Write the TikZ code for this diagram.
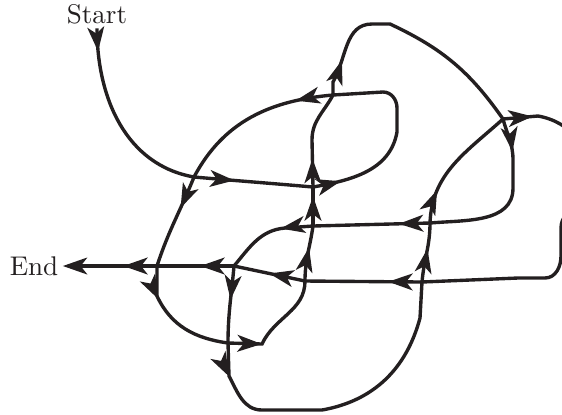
\documentclass[tikz,border=0pt]{standalone}
\usepackage{tikz}
\usetikzlibrary{arrows.meta,decorations.markings}
\definecolor{ink}{HTML}{231F20}
\tikzset{
  >={Stealth[length=9pt,width=6.2pt,inset=2.4pt]},
  % --- nodes
  lbl/.style  = {text=ink, inner sep=1.5pt},
  % --- edges
  wire/.style = {draw=ink, line width=1.25pt},
  flow/.style = {wire, postaction={decorate, decoration={markings,
                 mark=at position #1 with {\arrow{>}}}}},
  flow/.default = 12.5pt,
}
\begin{document}
\begin{tikzpicture}[x=0.37pt, y=-0.37pt]
  \useasboundingbox (0,0) rectangle (562,414);
  \clip (0,0) rectangle (562,414);
  \node[lbl] (start) at (97,14) {Start};
  \node[lbl] (finish) at (34,266) {End};

  % crossings
  \coordinate (a) at (194,177); \coordinate (b) at (313,187);
  \coordinate (c) at (157,266); \coordinate (d) at (333,95);
  \coordinate (e) at (313,226); \coordinate (f) at (234,266);
  \coordinate (g) at (430,223); \coordinate (h) at (503,119);
  \coordinate (i) at (422,282); \coordinate (j) at (305,281);
  \coordinate (k) at (228,343);

  \draw[flow=8.5pt] (start) to[out=-90,in=170] (a);
  \draw[flow=15pt] (a) to[out=-5,in=175] (b);
  \draw[flow] (a) to[out=-112,in=72] (c);
  \draw[flow=10.5pt] (b) -- (312,140) to[out=90,in=-118] (d);
  \draw[flow=10.5pt] (b) to[out=10,in=-100] (397,132) -- (397,108)
    to[out=90,in=0] (383,92) -- (d);
  \draw[flow=13.5pt] (d) -- (333,82) to[out=60,in=180] (372,24) -- (390,24)
    to[out=-25,in=125] (h);
  \draw[flow=14pt] (d) to[out=185,in=62] (a);
  \draw[flow] (h) to[out=-75,in=90] (513,160) -- (513,188) to[out=-90,in=5] (g);
  \draw[flow=11pt] (h) -- (538,116) to[out=-10,in=90] (592,182)
    to[out=-90,in=90] (561,228) -- (561,256) to[out=-90,in=0] (545,278)
    -- (518,278) -- (i);
  \draw[flow] (g) to[out=88,in=-138] (h);
  \draw[flow=11.5pt] (g) -- (e);
  \draw[flow=11pt] (e) -- (b);
  \draw[flow=12pt] (e) -- (285,228) to[out=185,in=50] (f);
  \draw[flow] (j) to[out=90,in=-98] (e);
  \draw[flow=13.5pt] (j) -- (f);
  \draw[flow] (f) -- (c);
  \draw[flow] (f) to[out=-95,in=90] (k);
  \draw[flow] (c) -- (157,296) to[out=-65,in=172] (k);
  \draw[flow,->] (c) -- (finish);
  \draw[flow] (k) -- (262,344) to[out=65,in=-90] (j);
  \draw[flow] (k) -- (229,376) to[out=-62,in=180] (262,410) -- (322,410)
    to[out=10,in=-105] (420,318) -- (i);
  \draw[flow] (i) to[out=85,in=-90] (g);
  \draw[flow] (i) -- (j);
\end{tikzpicture}
\end{document}
